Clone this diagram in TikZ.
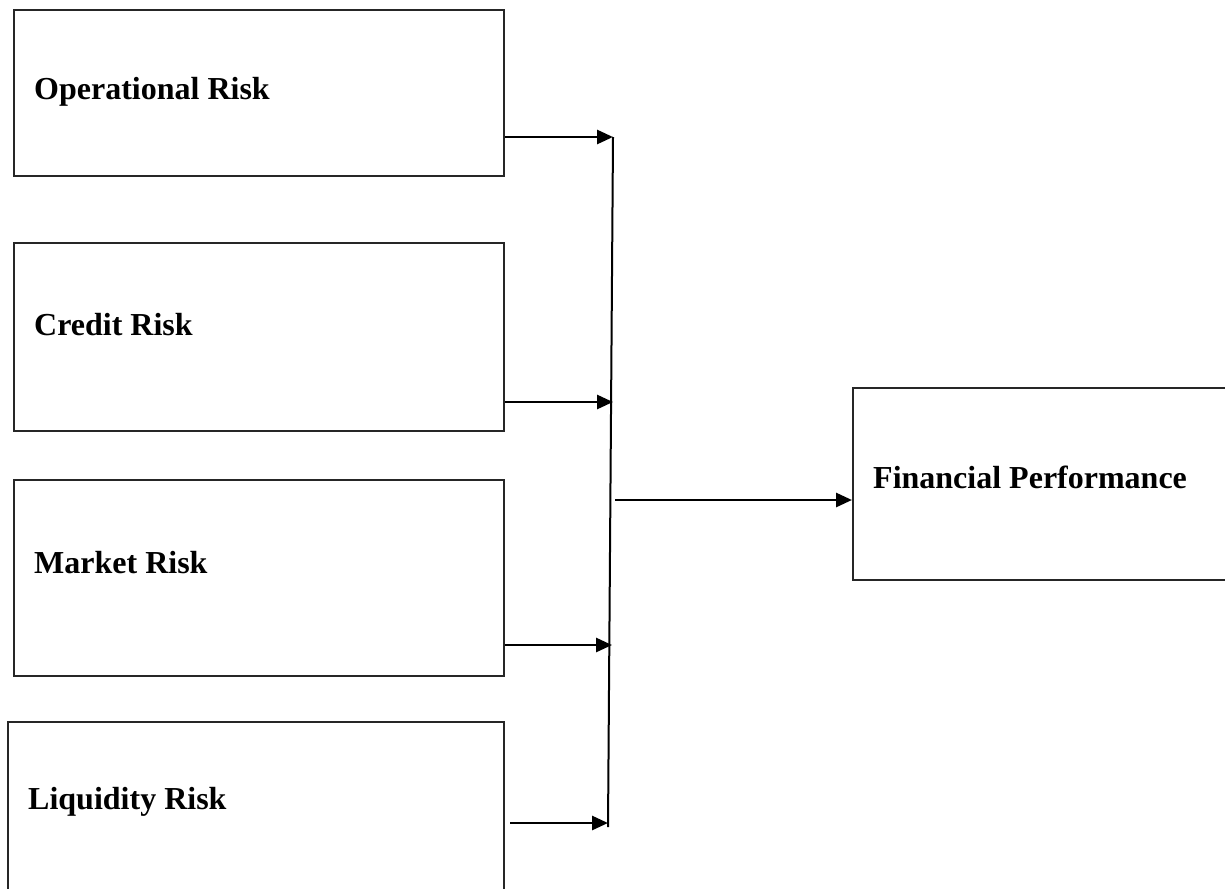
\documentclass[tikz,border=0pt]{standalone}
\usepackage{fontspec}
\setmainfont{Liberation Serif}
\usetikzlibrary{arrows.meta}
\tikzset{
  riskbox/.style={draw=black!85, line width=2pt, rectangle, inner sep=0pt, anchor=north west},
  lbl/.style={anchor=west, inner sep=0pt, font=\fontsize{32}{38}\selectfont\bfseries},
  arr/.style={line width=2.8pt, -{Triangle[length=16pt,width=14pt]}},
  bus/.style={line width=2pt}
}
\begin{document}
\begin{tikzpicture}[x=1pt,y=-1pt]
\useasboundingbox (0,0) rectangle (1225,888);
% boxes
\node[riskbox, minimum width=490pt, minimum height=166pt] (op) at (13,9) {};
\node[riskbox, minimum width=490pt, minimum height=188pt] (cr) at (13,242) {};
\node[riskbox, minimum width=490pt, minimum height=196pt] (mk) at (13,479) {};
\node[riskbox, minimum width=496pt, minimum height=200pt] (lq) at (7,721) {};
\node[riskbox, minimum width=390pt, minimum height=192pt] (fp) at (852,387) {};
% labels
\node[lbl] (opt) at (34,92) {Operational Risk};
\node[lbl] (crt) at (34,325) {Credit Risk};
\node[lbl] (mkt) at (34,563) {Market Risk};
\node[lbl] (lqt) at (28,802) {Liquidity Risk};
\node[lbl] (fpt) at (873,477) {Financial Performance};
% bus line
\coordinate (btop) at (613,137);
\coordinate (bbot) at (608,827);
\draw[bus] (btop) -- (bbot);
\coordinate (c1) at (613,137);
\coordinate (c2) at (613,402);
\coordinate (c3) at (612,645);
\coordinate (c4) at (608,823);
\coordinate (s4) at (510,823);
\coordinate (fs) at (615,500);
% arrows
\draw[arr] (op.east |- c1) -- (c1);
\draw[arr] (cr.east |- c2) -- (c2);
\draw[arr] (mk.east |- c3) -- (c3);
\draw[arr] (s4) -- (c4);
\draw[arr] (fs) -- (fp.west |- fs);
\end{tikzpicture}
\end{document}
